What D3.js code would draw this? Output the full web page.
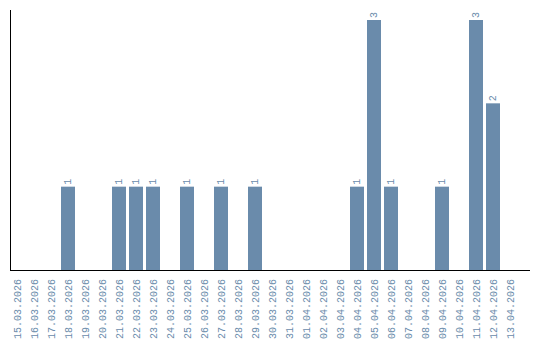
<!DOCTYPE html>
<html>
<head>
<meta charset="utf-8">
<script src="https://cdn.jsdelivr.net/npm/d3@7"></script>
<style>
  body { margin: 0; background: #fff; }
  .bar { fill: #6a8bab; }
  .lbl, .val { fill: #6a8bab; font-family: "Liberation Mono", monospace; }
  .axisLine { stroke: #000; stroke-width: 1; shape-rendering: crispEdges; }
</style>
</head>
<body>
<div id="chart"></div>
<script>
var dates = ["15.03.2026","16.03.2026","17.03.2026","18.03.2026","19.03.2026","20.03.2026",
  "21.03.2026","22.03.2026","23.03.2026","24.03.2026","25.03.2026","26.03.2026","27.03.2026",
  "28.03.2026","29.03.2026","30.03.2026","31.03.2026","01.04.2026","02.04.2026","03.04.2026",
  "04.04.2026","05.04.2026","06.04.2026","07.04.2026","08.04.2026","09.04.2026","10.04.2026",
  "11.04.2026","12.04.2026","13.04.2026"];
var counts = [0,0,0,1,0,0,1,1,1,0,1,0,1,0,1,0,0,0,0,0,1,3,1,0,0,1,0,3,2,0];

var width = 540, height = 340;
var svg = d3.select("#chart").append("svg")
  .attr("width", width)
  .attr("height", height);

var x = d3.scaleBand()
  .domain(dates)
  .range([10, 517])
  .paddingInner(3 / 17)
  .paddingOuter(0);

var y = d3.scaleLinear()
  .domain([0, d3.max(counts)])
  .range([270, 20]);

var data = dates.map((d, i) => ({date: d, value: counts[i]}));

// bars
svg.selectAll(".bar")
  .data(data.filter(d => d.value > 0))
  .enter().append("rect")
  .attr("class", "bar")
  .attr("x", d => x(d.date))
  .attr("y", d => y(d.value))
  .attr("width", x.bandwidth())
  .attr("height", d => y(0) - y(d.value));

// values on top of bars
svg.selectAll(".val")
  .data(data.filter(d => d.value > 0))
  .enter().append("text")
  .attr("class", "val")
  .attr("font-size", 10)
  .attr("transform", d => "translate(" + (x(d.date) + x.bandwidth() / 2 + 3) + "," + (y(d.value) - 2) + ") rotate(-90)")
  .text(d => d.value);

// axes
svg.append("line").attr("class", "axisLine")
  .attr("x1", 10.5).attr("x2", 10.5).attr("y1", 10).attr("y2", 270);
svg.append("line").attr("class", "axisLine")
  .attr("x1", 10).attr("x2", 530).attr("y1", 270.5).attr("y2", 270.5);

// date labels
svg.selectAll(".lbl")
  .data(dates)
  .enter().append("text")
  .attr("class", "lbl")
  .attr("font-size", 10)
  .attr("text-anchor", "end")
  .attr("transform", d => "translate(" + (x(d) + x.bandwidth() / 2 + 4) + ",279) rotate(-90)")
  .text(d => d);
</script>
</body>
</html>
